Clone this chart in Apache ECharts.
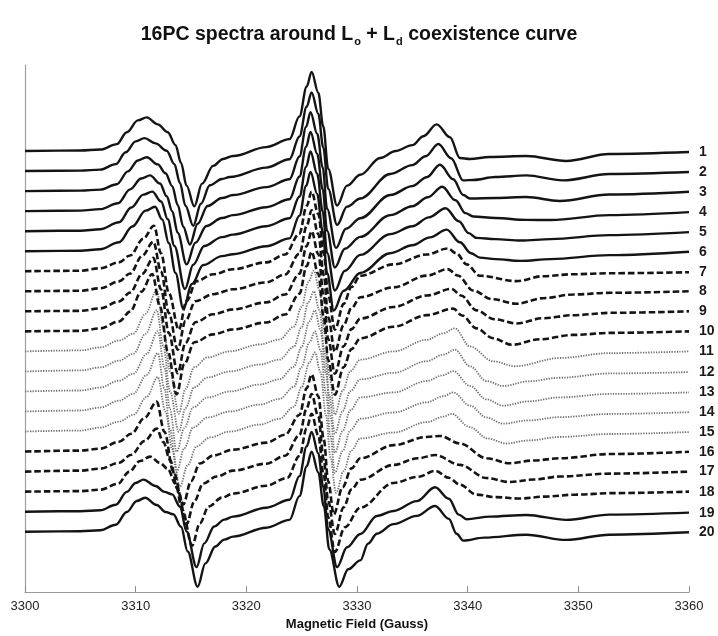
<!DOCTYPE html>
<html>
<head>
<meta charset="utf-8">
<script src="https://cdn.jsdelivr.net/npm/echarts@6/dist/echarts.min.js"></script>
<style>html,body{margin:0;padding:0;background:#fff}#c{width:718px;height:636px}</style>
</head>
<body>
<div id="c"></div>
<script>
// Field values (Gauss) and first-derivative signal (arbitrary units) for each spectrum
const spec1 = [[3300,0],[3305,0.5],[3306.8,1.5],[3308.3,7],[3309.2,19],[3310.2,31],[3311.0,34],[3312.0,27],[3312.9,19],[3313.6,6],[3314.1,-12],[3314.6,-35],[3315.3,-56],[3316.0,-33],[3317.0,-15],[3317.9,-8],[3318.8,-5],[3321.8,4],[3323.9,12],[3324.8,35],[3325.45,65],[3325.9,80],[3326.5,59],[3326.95,25],[3327.4,-18],[3328.2,-55],[3329.1,-35],[3330.3,-24],[3332.1,-7],[3333.5,0],[3335.0,6],[3336.0,15],[3337.2,27],[3338.4,14],[3339.3,-7],[3340.2,-8],[3342,-6],[3345.3,-5],[3348.9,-10],[3352.8,-3],[3360,-1]];
const spec2 = [[3300,0],[3305,0.5],[3306.8,1.5],[3308.2,7],[3309.1,19],[3310.0,30],[3310.8,33.3],[3311.8,28],[3312.8,20.6],[3313.5,7],[3314.0,-12],[3314.5,-35],[3315.2,-55.4],[3315.9,-33],[3316.7,-14.4],[3317.8,-8],[3318.5,-6],[3321.8,3.5],[3323.9,12],[3324.8,35],[3325.45,65],[3325.9,79.6],[3326.5,58],[3326.95,24],[3327.4,-18],[3328.2,-54.4],[3329.1,-36],[3330.3,-27.7],[3333.0,-3],[3335.0,6],[3336.2,15],[3337.35,27.3],[3338.5,13],[3339.6,-9.4],[3340.5,-9],[3342.5,-6],[3345.3,-4.4],[3348.6,-9.4],[3352.8,-3],[3360,-1]];
const spec3 = [[3300,0],[3305,0.5],[3306.8,1.5],[3308.3,7],[3309.3,20],[3310.2,31],[3311.0,34.3],[3312.0,27],[3312.7,18],[3313.3,5],[3313.8,-14],[3314.3,-36],[3314.9,-54],[3315.6,-33],[3316.5,-15],[3317.8,-7],[3318.8,-4],[3321.8,4],[3323.9,12],[3324.8,35],[3325.4,65],[3325.8,79.9],[3326.4,58],[3326.9,24],[3327.3,-18],[3328.1,-57.4],[3329.0,-38],[3330.3,-27.4],[3333.0,-4],[3335.0,5],[3336.3,14],[3337.5,26.6],[3338.7,12],[3339.6,-4],[3340.2,-7.4],[3342.5,-7],[3345.3,-6],[3348.3,-10],[3352.8,-3.5],[3360,-0.7]];
const spec4 = [[3300,0],[3305,0.5],[3306.8,2],[3308.4,8],[3309.5,22],[3310.5,33],[3311.3,36.2],[3312.2,28],[3312.8,15],[3313.3,0],[3313.8,-22],[3314.6,-53.8],[3315.4,-32],[3316.4,-15],[3317.8,-7],[3318.8,-4],[3321.8,4],[3323.9,12],[3324.8,35],[3325.4,65],[3325.8,80.2],[3326.4,58],[3326.9,22],[3327.3,-20],[3328.0,-57],[3328.9,-38],[3330.3,-26],[3333.0,-4],[3335.0,5],[3336.4,14],[3337.7,24.6],[3338.9,11],[3339.8,-2],[3340.5,-5.4],[3342.5,-7],[3345.3,-8.8],[3347.5,-9],[3352.8,-4],[3360,-1]];
const spec5 = [[3300,0],[3305,0.5],[3306.8,2],[3308.5,9],[3309.6,24],[3310.7,37],[3311.5,40],[3312.3,30],[3312.9,12],[3313.5,-15],[3314.45,-58.5],[3315.2,-34],[3316.2,-15],[3317.8,-6],[3318.8,-3.5],[3321.8,5],[3323.9,13],[3324.8,35],[3325.4,65],[3325.8,80.5],[3326.4,58],[3326.9,20],[3327.3,-22],[3328.0,-60],[3328.9,-40],[3330.3,-24],[3333.0,-3],[3335.0,5],[3336.5,14],[3338.0,23.2],[3339.2,10],[3340.1,-2],[3340.8,-6.8],[3342.5,-8],[3344.8,-9.5],[3347.5,-8],[3352.8,-4],[3360,-1]];
const spec6 = [[3300,0],[3305,0.5],[3306.8,2],[3308.5,9],[3309.7,25],[3310.9,41],[3311.75,45],[3312.4,32],[3313.0,8],[3313.6,-22],[3314.3,-58],[3315.1,-33],[3316.1,-14],[3317.8,-5],[3318.8,-3],[3321.8,5],[3323.9,13],[3324.8,36],[3325.4,66],[3325.8,80.2],[3326.4,58],[3326.9,20],[3327.3,-22],[3327.9,-60],[3328.8,-40],[3330.3,-22],[3333.0,-2],[3335.0,6],[3336.6,14],[3338.1,21.8],[3339.3,9],[3340.3,-2],[3341.1,-6.5],[3342.5,-8],[3344.8,-9.8],[3347.5,-8],[3352.8,-4],[3360,-0.5]];
const spec7 = [[3300,0],[3305,0.5],[3306.8,3],[3308.5,9],[3309.5,16],[3310.7,33],[3311.65,46],[3312.3,18],[3313.0,-22],[3313.9,-59],[3314.6,-30],[3315.5,-10],[3317.0,-3],[3318.8,2],[3321.8,9],[3323.5,17],[3324.8,38],[3325.45,66],[3325.9,80.5],[3326.5,58],[3327.0,18],[3327.4,-24],[3328.0,-59],[3328.8,-33],[3329.5,-16],[3330.3,-4.5],[3333.3,7],[3336.3,17],[3338.2,23],[3339.0,18],[3339.9,7],[3341.1,-4.5],[3344.4,-10],[3346.8,-5],[3349.5,-3],[3353,-2],[3360,-1]];
const spec8 = [[3300,0],[3305,0.5],[3306.8,3],[3308.5,10],[3309.5,18],[3310.6,36],[3311.6,50],[3312.3,20],[3313.0,-22],[3313.8,-59],[3314.5,-30],[3315.4,-10],[3317.0,-3],[3318.8,2],[3321.8,9],[3323.5,17],[3324.8,38],[3325.45,66],[3325.9,82],[3326.5,58],[3327.0,16],[3327.4,-26],[3328.0,-61],[3328.8,-34],[3329.5,-17],[3330.3,-6],[3333.3,4],[3336.3,15.8],[3338.2,22.4],[3339.1,16],[3340.5,0.8],[3342.2,-8],[3344.4,-12.6],[3346.8,-7],[3349.5,-3.2],[3353,-1.5],[3360,0]];
const spec9 = [[3300,0],[3305,0.5],[3306.8,3],[3308.5,10],[3309.5,19],[3310.6,38],[3311.6,54],[3312.3,22],[3313.0,-22],[3313.8,-62.6],[3314.5,-32],[3315.4,-11],[3317.0,-3],[3318.8,2],[3321.8,9],[3323.5,17],[3324.8,38],[3325.45,66],[3325.9,81],[3326.5,58],[3327.0,15],[3327.4,-28],[3328.0,-63],[3328.8,-35],[3329.5,-18],[3330.3,-7.3],[3333.3,4.4],[3336.3,16],[3338.55,22.7],[3339.4,16],[3340.8,1],[3342.4,-8],[3344.4,-12.3],[3346.8,-7],[3349.5,-3.9],[3353,-1.5],[3360,0]];
const spec10 = [[3300,0],[3305,0.5],[3306.8,3],[3308.5,10],[3309.5,20],[3310.5,40],[3311.5,58],[3312.2,25],[3312.9,-20],[3313.7,-63.6],[3314.4,-33],[3315.3,-11],[3317.0,-3],[3318.8,2],[3321.8,9],[3323.5,17],[3324.8,38],[3325.45,66],[3325.9,80.5],[3326.5,58],[3327.0,14],[3327.4,-29],[3328.0,-64],[3328.8,-36],[3329.5,-18],[3330.3,-7],[3333.3,4.7],[3336.3,16.4],[3338.7,23],[3339.5,16],[3340.8,3],[3342.3,-7],[3344.0,-13.6],[3346.5,-8],[3349.5,-3.6],[3353,-1.5],[3360,0]];
const spec11 = [[3300,0],[3305,1],[3306.8,4],[3308.5,11],[3309.8,18],[3310.9,38],[3311.9,62],[3312.5,25],[3313.1,-20],[3313.9,-63],[3314.5,-38],[3315.3,-16],[3316.5,-6],[3318.5,0],[3321.2,7],[3323.0,12],[3324.3,25],[3325.0,45],[3325.6,70],[3326.1,81.7],[3326.6,62],[3327.1,18],[3327.5,-25],[3328.0,-64],[3328.7,-40],[3329.4,-20],[3330.3,-8.3],[3333.3,0],[3336.3,11.7],[3337.8,18.3],[3338.85,23.3],[3340.2,5],[3342.3,-10],[3344.3,-15],[3348.3,-6.7],[3352.9,-1.7],[3360,0]];
const spec12 = [[3300,0],[3305,1],[3306.8,4],[3308.5,11],[3309.8,18],[3310.9,38],[3311.9,62],[3312.5,26],[3313.1,-20],[3313.9,-61],[3314.5,-37],[3315.3,-16],[3316.5,-6],[3318.5,0],[3321.2,7],[3323.0,12],[3324.3,25],[3325.0,45],[3325.6,70],[3326.1,81],[3326.6,62],[3327.1,18],[3327.5,-25],[3328.0,-63],[3328.7,-40],[3329.4,-20],[3330.3,-8],[3333.3,-1.4],[3336.3,10.3],[3337.8,17],[3338.85,22],[3340.2,5.3],[3341.7,-9.7],[3343.2,-14.7],[3345.5,-10],[3348.3,-6.4],[3352.9,-2],[3360,-0.7]];
const spec13 = [[3300,0],[3305,1],[3306.8,4],[3308.5,11],[3309.8,18],[3311.0,38],[3312.0,61],[3312.6,24],[3313.1,-18],[3313.7,-61],[3314.4,-37],[3315.2,-16],[3316.5,-6],[3318.5,0],[3321.2,7],[3323.0,12.3],[3324.3,25],[3325.0,45],[3325.7,71],[3326.2,82],[3326.7,62],[3327.2,18],[3327.6,-25],[3328.0,-62],[3328.7,-40],[3329.4,-19],[3330.3,-6],[3333.3,-1],[3336.3,10.6],[3337.8,16.5],[3338.7,20.6],[3340.2,5.6],[3341.7,-8],[3343.2,-14.4],[3345.5,-10],[3348.3,-6],[3352.9,-2.5],[3360,-1]];
const spec14 = [[3300,0],[3305,1],[3306.8,4],[3308.5,11],[3309.8,18],[3311.0,37],[3312.0,59],[3312.6,23],[3313.1,-18],[3313.7,-61],[3314.4,-37],[3315.2,-16],[3316.5,-6],[3318.5,0],[3321.2,7],[3323.0,12.7],[3324.3,25],[3325.0,45],[3325.7,70],[3326.2,81],[3326.7,62],[3327.2,18],[3327.6,-25],[3328.0,-62],[3328.7,-40],[3329.4,-19],[3330.3,-7.3],[3333.3,-1],[3336.3,9.3],[3337.8,15.5],[3338.7,19.3],[3340.2,6],[3341.7,-6],[3343.2,-12.3],[3345.5,-9],[3348.3,-5.7],[3352.9,-2.5],[3360,-0.7]];
const spec15 = [[3300,0],[3305,1],[3306.8,4],[3308.5,10],[3309.8,17],[3311.0,35],[3312.0,55],[3312.7,20],[3313.3,-18],[3314.0,-55.5],[3314.7,-34],[3315.5,-15],[3316.7,-6],[3318.5,0],[3321.2,7],[3323.0,12.9],[3324.3,25],[3325.0,45],[3325.7,70],[3326.2,80],[3326.7,60],[3327.2,16],[3327.6,-26],[3328.1,-62],[3328.8,-40],[3329.5,-19],[3330.3,-7],[3333.3,-1],[3336.3,9.5],[3337.8,15],[3338.55,17.9],[3340.2,4.5],[3341.8,-7],[3343.5,-12.1],[3345.5,-9],[3348.3,-5.5],[3352.9,-2.5],[3360,-0.5]];
const spec16 = [[3300,0],[3305,1],[3306.8,3],[3308.5,10],[3309.6,18],[3310.8,34],[3311.9,50.5],[3312.6,20],[3313.4,-20],[3314.3,-53.5],[3315.0,-30],[3315.8,-12],[3317.0,-4],[3318.8,2],[3321.8,9],[3323.5,17],[3324.8,37],[3325.45,64],[3325.9,78],[3326.5,56],[3327.0,12],[3327.4,-30],[3327.9,-63.5],[3328.7,-36],[3329.5,-17],[3330.3,-6.8],[3333.3,6.5],[3336.3,14.8],[3337.5,15.8],[3339.3,8.2],[3341.7,-6.8],[3343.8,-11.8],[3346.0,-9],[3348.3,-6.8],[3352.9,-2.5],[3360,-0.2]];
const spec17 = [[3300,0],[3305,1],[3306.8,3],[3308.5,9],[3309.6,17],[3310.8,31],[3311.9,43.5],[3312.5,30],[3313.1,12],[3313.8,-18],[3314.6,-53.2],[3315.3,-30],[3316.1,-12],[3317.3,-5],[3318.8,1],[3321.8,8],[3323.5,16],[3324.8,37],[3325.45,64],[3325.9,78.5],[3326.5,56],[3327.0,12],[3327.4,-30],[3328.0,-63],[3328.8,-36],[3329.5,-18],[3330.3,-8.2],[3333.3,6.8],[3335.5,13.5],[3337.05,16.8],[3339.3,6.8],[3341.7,-6.5],[3343.8,-10.5],[3346.0,-8],[3348.3,-5],[3352.9,-2],[3360,0]];
const spec18 = [[3300,0],[3305,0.5],[3306.8,2],[3308.4,8],[3309.4,20],[3310.4,31],[3311.3,35.4],[3312.2,29],[3312.9,23],[3313.6,8],[3314.2,-18],[3315.1,-54.6],[3315.8,-32],[3316.6,-15],[3317.8,-6],[3318.8,-2],[3321.8,6],[3323.7,14],[3324.8,36],[3325.45,64],[3325.9,78.8],[3326.5,57],[3327.0,16],[3327.4,-26],[3328.0,-61],[3328.9,-36],[3330.3,-16.2],[3333.3,8.8],[3335.5,15],[3337.1,21],[3338.3,14],[3339.3,7],[3340.8,-3],[3342.5,-5.5],[3344.7,-7],[3347,-5],[3349.8,-3],[3353,-1.5],[3360,0]];
const spec19 = [[3300,0],[3305,0.5],[3306.8,1.5],[3308.2,7],[3309.2,20],[3310.0,29],[3310.7,32.4],[3311.8,26],[3312.6,20],[3313.3,17.5],[3314.0,5],[3314.6,-20],[3315.5,-56],[3316.2,-32],[3317.1,-15],[3318.0,-8],[3318.8,-5],[3321.8,4],[3323.9,12],[3324.8,36],[3325.45,66],[3325.9,80.7],[3326.5,59],[3326.95,25],[3327.4,-18],[3328.2,-56],[3329.1,-36],[3330.3,-22.6],[3331.8,-4.3],[3333.3,0.7],[3335.4,10.7],[3337.05,24.7],[3338.3,13],[3339.2,-3],[3339.9,-7.6],[3342,-5],[3345.3,-3.3],[3348.9,-8.3],[3352.8,-3],[3360,-1]];
const spec20 = [[3300,0],[3305,0.5],[3306.8,1.5],[3308.2,7],[3309.2,20],[3310.1,31],[3310.85,34.4],[3311.9,27],[3312.7,20],[3313.4,17.7],[3314.1,5],[3314.7,-20],[3315.6,-55.6],[3316.3,-32],[3317.2,-15],[3318.0,-8],[3318.8,-5],[3321.8,4],[3323.9,12],[3324.8,36],[3325.45,66],[3325.9,81],[3326.5,60],[3327.0,26],[3327.5,-18],[3328.4,-55.6],[3329.2,-38],[3330.3,-29],[3331.0,-12],[3331.8,-2],[3333.3,7.7],[3335.4,16],[3337.05,26],[3338.3,13],[3339.0,-2],[3339.6,-9],[3341.5,-6],[3345.3,-3],[3348.9,-8.3],[3352.8,-3],[3360,-0.6]];

const spectra = [spec1,spec2,spec3,spec4,spec5,spec6,spec7,spec8,spec9,spec10,spec11,spec12,spec13,spec14,spec15,spec16,spec17,spec18,spec19,spec20];
const spectrumLabels = ['1','2','3','4','5','6','7','8','9','10','11','12','13','14','15','16','17','18','19','20'];
const lineKinds = ['solid','solid','solid','solid','solid','solid','dashed','dashed','dashed','dashed','dotted','dotted','dotted','dotted','dotted','dashed','dashed','dashed','solid','solid'];
const xTicks = [3300, 3310, 3320, 3330, 3340, 3350, 3360];

const styleOf = {
  solid:  {color:'#141414', width:2.4, type:'solid'},
  dashed: {color:'#141414', width:2.6, type:[6.5,3]},
  dotted: {color:'#6e6e6e', width:1.8, type:[1.3,1.3]}
};
const STEP = 20.26, TOP_BASE = 446;

const series = spectra.map((s, i) => {
  const off = TOP_BASE - i * STEP;
  const st = styleOf[lineKinds[i]];
  return {
    name: spectrumLabels[i],
    type: 'line',
    data: s.map(p => [p[0], p[1] + off]),
    showSymbol: false,
    symbol: 'none',
    smooth: 0.35,
    smoothMonotone: 'x',
    clip: false,
    z: lineKinds[i] === 'dotted' ? 2 : 3,
    lineStyle: {color: st.color, width: st.width, type: st.type},
    endLabel: {show: true, formatter: spectrumLabels[i], color:'#1a1a1a', fontWeight:'bold', fontSize:14, fontFamily:'Liberation Sans, Arial, sans-serif', distance: 10},
    emphasis: {disabled: true},
    animation: false
  };
});

const chart = echarts.init(document.getElementById('c'), null, {renderer:'canvas'});
chart.setOption({
  backgroundColor: '#fff',
  animation: false,
  title: {
    text: '16PC spectra around L{s|o} + L{s|d} coexistence curve',
    left: 'center', top: 17,
    textStyle: {
      fontSize: 19.5, fontWeight: 'bold', color: '#111', fontFamily: 'Liberation Sans, Arial, sans-serif',
      rich: { s: {fontSize: 11, fontWeight: 'bold', color:'#111', fontFamily:'Liberation Sans, Arial, sans-serif', padding:[14,0,0,1]} }
    }
  },
  grid: {left: 25, right: 29, top: 65, bottom: 38},
  xAxis: {
    type: 'value', min: 3300, max: 3360, interval: 10,
    axisLine: {show: true, lineStyle: {color: '#9a9a9a', width: 1.2}},
    axisTick: {show: true, inside: true, length: 6, lineStyle: {color: '#8a8a8a'}},
    axisLabel: {color: '#222', fontSize: 13, margin: 8, fontFamily: 'Liberation Sans, Arial, sans-serif',
      formatter: v => xTicks.includes(v) ? String(v) : ''},
    splitLine: {show: false},
    name: 'Magnetic Field (Gauss)', nameLocation: 'middle', nameGap: 23,
    nameTextStyle: {fontSize: 13, fontWeight: 'bold', color: '#111', fontFamily: 'Liberation Sans, Arial, sans-serif'}
  },
  yAxis: {
    type: 'value', min: 0, max: 533,
    axisLine: {show: true, lineStyle: {color: '#a0a0a0', width: 1.2}},
    axisTick: {show: false}, axisLabel: {show: false}, splitLine: {show: false}
  },
  series: series
});
</script>
</body>
</html>
